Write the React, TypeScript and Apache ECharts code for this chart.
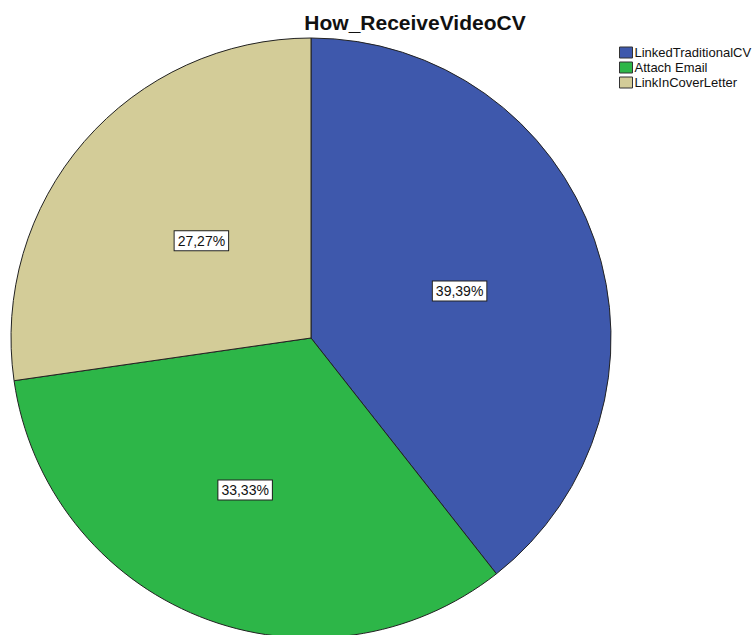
import React, { useEffect, useRef } from "react";
import * as echarts from "echarts";

const categories = ["LinkedTraditionalCV", "Attach Email", "LinkInCoverLetter"];
const counts = [13, 11, 9];
const colors = ["#3E58AC", "#2DB648", "#D3CC98"];
const title = "How_ReceiveVideoCV";

export default function App() {
  const ref = useRef<HTMLDivElement>(null);
  useEffect(() => {
    const chart = echarts.init(ref.current!, null, { renderer: "svg" });
    const total = counts.reduce((a, b) => a + b, 0);
    const offsets = [[4, 3], [-9, 10], [6, 3]];
    chart.setOption({
      animation: false,
      backgroundColor: "#ffffff",
      title: {
        text: title,
        left: 410,
        top: 7,
        textAlign: "center",
        textStyle: { fontFamily: "Liberation Sans, Arial, sans-serif", fontSize: 21, fontWeight: "bold", color: "#111" },
      },
      legend: {
        orient: "vertical",
        left: 614,
        top: 41,
        itemWidth: 13,
        itemHeight: 11,
        itemGap: 2,
        icon: "rect",
        selectedMode: false,
        itemStyle: { borderColor: "#333", borderWidth: 1 },
        textStyle: { fontFamily: "Liberation Sans, Arial, sans-serif", fontSize: 13, lineHeight: 12, color: "#111", padding: [0, 0, 0, -3] },
        data: categories,
      },
      series: [
        {
          type: "pie",
          center: [311, 338],
          radius: 300,
          startAngle: 90,
          clockwise: true,
          silent: true,
          itemStyle: { borderColor: "#222", borderWidth: 1 },
          label: {
            position: "inside",
            formatter: (p: any) => ((p.value / total) * 100).toFixed(2).replace(".", ",") + "%",
            fontFamily: "Liberation Sans, Arial, sans-serif",
            fontSize: 14,
            color: "#111",
            backgroundColor: "#fff",
            borderColor: "#222",
            borderWidth: 1,
            padding: [3, 3, 2, 3],
          },
          labelLine: { show: false },
          data: categories.map((c, i) => ({
            name: c,
            value: counts[i],
            itemStyle: { color: colors[i] },
            label: { offset: offsets[i] },
          })),
        },
      ],
    });
    return () => chart.dispose();
  }, []);
  return <div ref={ref} style={{ position: "fixed", left: 0, top: 0, width: 756, height: 635 }} />;
}
